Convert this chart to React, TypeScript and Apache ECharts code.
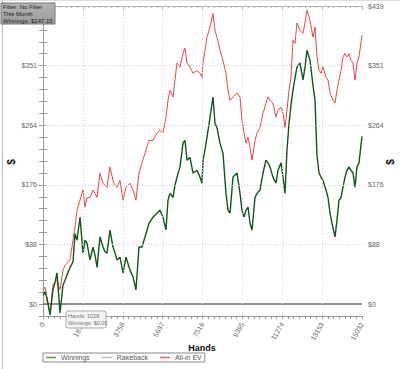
import React, { useEffect, useRef } from "react";
import * as echarts from "echarts";

const hands = [0, 94, 188, 330, 471, 565, 660, 801, 942, 1037, 1131, 1272, 1414, 1508, 1602, 1744, 1885, 1979, 2073, 2215, 2356, 2450, 2545, 2686, 2827, 2922, 3016, 3157, 3299, 3393, 3487, 3628, 3770, 3911, 4100, 4241, 4382, 4524, 4665, 4854, 4995, 5183, 5372, 5513, 5655, 5796, 5890, 5984, 6126, 6220, 6314, 6456, 6597, 6691, 6786, 6927, 7068, 7257, 7398, 7492, 7540, 7634, 7728, 7869, 8011, 8105, 8199, 8341, 8482, 8623, 8718, 8812, 8953, 9142, 9283, 9377, 9472, 9566, 9660, 9754, 9848, 9990, 10084, 10225, 10367, 10508, 10602, 10697, 10838, 10979, 11074, 11215, 11309, 11403, 11498, 11592, 11686, 11781, 11875, 11969, 12110, 12252, 12346, 12440, 12582, 12723, 12817, 12911, 13006, 13100, 13194, 13336, 13430, 13525, 13665, 13760, 13854, 13948, 14042, 14136, 14231, 14325, 14419, 14513, 14608, 14702, 14796, 14890, 15032];

const winnings = [13, 18, 9, -16, 21, 32, 46, -13, 28, 35, 43, 54, 62, 104, 94, 128, 75, 94, 90, 65, 84, 72, 54, 99, 84, 77, 75, 109, 84, 75, 65, 69, 46, 69, 50, 40, 21, 84, 84, 104, 119, 128, 134, 138, 128, 109, 153, 163, 157, 175, 187, 202, 237, 241, 212, 216, 193, 197, 187, 178, 212, 227, 246, 275, 305, 266, 260, 237, 222, 163, 138, 134, 187, 193, 163, 138, 128, 138, 143, 119, 109, 157, 163, 168, 193, 212, 208, 202, 187, 178, 197, 208, 187, 163, 227, 266, 293, 315, 333, 349, 355, 330, 349, 374, 359, 322, 300, 219, 193, 187, 182, 168, 157, 134, 112, 99, 124, 153, 157, 172, 187, 197, 202, 197, 193, 172, 202, 208, 247.15];

const allInEV = [21, 25, 6, -13, 28, 32, 35, 21, 50, 57, 60, 65, 94, 113, 138, 153, 168, 143, 157, 157, 168, 163, 157, 193, 178, 175, 172, 202, 182, 175, 172, 182, 153, 172, 178, 168, 153, 193, 208, 227, 241, 241, 252, 256, 252, 275, 300, 315, 305, 330, 355, 349, 369, 377, 355, 349, 340, 344, 340, 334, 355, 374, 393, 408, 428, 403, 393, 374, 359, 340, 315, 300, 305, 311, 305, 271, 252, 237, 246, 231, 212, 241, 252, 260, 281, 296, 305, 300, 296, 275, 286, 290, 281, 260, 286, 315, 334, 389, 384, 414, 403, 399, 414, 433, 418, 393, 408, 364, 344, 340, 349, 334, 330, 311, 300, 296, 315, 330, 344, 364, 369, 364, 369, 359, 355, 330, 355, 364, 396];

const rakeback = hands.map(() => 0);

const yTickLabels = ["$0", "$88", "$176", "$264", "$351", "$439"];
const xMax = 15032;
const xStep = 1879;
const yStep = 87.8;

const legendNames = ["Winnings", "Rakeback", "All-in EV"];
const filterLines = ["Filter: No Filter", "This Month", "Winnings: $247.15"];
const tipLines = ["Hands: 1028", "Winnings: $0.00"];

const FONT = "Liberation Sans, Arial, sans-serif";

export default function App() {
  const ref = useRef<HTMLDivElement>(null);
  useEffect(() => {
    if (!ref.current) return;
    const chart = echarts.init(ref.current, null, { renderer: "svg" });
    const makeFmt = (maxIdx: number) => (v: number) => {
      const idx = Math.round(v / yStep);
      if (idx >= 0 && idx <= maxIdx && Math.abs(v - idx * yStep) < 0.05) return yTickLabels[idx] || "";
      return "";
    };
    const yAxisBase = {
      type: "value",
      min: -yStep / 5,
      max: yStep * 5,
      interval: yStep / 5,
      axisLine: { show: true, lineStyle: { color: "#9a9a9a", width: 1 } },
      axisTick: { show: true, length: 4, lineStyle: { color: "#9a9a9a" } },
      splitLine: { show: false },
    };
    const labelBase = { fontSize: 7, color: "#666", margin: 6, fontFamily: FONT };
    const pair = (arr: number[]) => hands.map((h, i) => [h, arr[i]]);
    const gridLinesY = [1, 2, 3, 4].map((k) => ({ yAxis: k * yStep }));
    const gridLinesX = [1, 2, 3, 4, 5, 6, 7].map((k) => ({ xAxis: k * xStep }));
    chart.setOption({
      animation: false,
      backgroundColor: "#fff",
      grid: { left: 43, right: 38, top: 6, bottom: 53 },
      xAxis: [
        {
          type: "value",
          min: 0,
          max: xMax,
          interval: xStep,
          axisLine: { show: true, onZero: false, lineStyle: { color: "#9a9a9a" } },
          axisTick: { show: true, length: 3, lineStyle: { color: "#9a9a9a" } },
          minorTick: { show: true, splitNumber: 7, length: 3, lineStyle: { color: "#9a9a9a" } },
          axisLabel: {
            rotate: 60,
            fontSize: 7,
            color: "#666",
            margin: 7,
            fontFamily: FONT,
            formatter: (v: number) => String(Math.round(v)),
          },
          splitLine: { show: false },
        },
        {
          type: "value",
          position: "top",
          min: 0,
          max: xMax,
          interval: xStep,
          axisLine: { show: true, onZero: false, lineStyle: { color: "#b0b0b0" } },
          axisTick: { show: true, inside: true, length: 4, lineStyle: { color: "#b0b0b0" } },
          minorTick: { show: true, splitNumber: 7, length: 2, lineStyle: { color: "#b0b0b0" } },
          axisLabel: { show: false },
          splitLine: { show: false },
        },
      ],
      yAxis: [
        { ...yAxisBase, position: "left", axisLabel: { ...labelBase, formatter: makeFmt(4) } },
        { ...yAxisBase, position: "right", axisLabel: { ...labelBase, formatter: makeFmt(5) } },
      ],
      legend: {
        left: 43,
        top: 353,
        data: legendNames,
        icon: "rect",
        itemWidth: 10,
        itemHeight: 1.5,
        itemGap: 12,
        padding: [1, 3, 1, 3],
        borderColor: "#888",
        borderWidth: 1,
        textStyle: { fontSize: 7, color: "#555", fontFamily: FONT },
        selectedMode: false,
      },
      series: [
        {
          name: "Rakeback",
          type: "line",
          data: pair(rakeback),
          symbol: "none",
          color: "#bdbdbd",
          lineStyle: { color: "#6d6d7d", width: 1.5 },
          z: 2,
          silent: true,
          markLine: {
            silent: true,
            symbol: "none",
            label: { show: false },
            lineStyle: { type: [1, 2], color: "#cfcfcf", width: 1 },
            data: [...gridLinesY, ...gridLinesX],
          },
        },
        {
          name: "All-in EV",
          type: "line",
          data: pair(allInEV),
          symbol: "none",
          color: "#e0696b",
          lineStyle: { color: "#e8484b", width: 1 },
          z: 3,
        },
        {
          name: "Winnings",
          type: "line",
          data: pair(winnings),
          symbol: "none",
          color: "#4f9a4f",
          lineStyle: { color: "#11571a", width: 1.4 },
          z: 4,
        },
      ],
      graphic: [
        { type: "line", shape: { x1: 2.5, y1: 0, x2: 2.5, y2: 369 }, style: { stroke: "#bbb", lineWidth: 1 } },
        { type: "line", shape: { x1: 0, y1: 0.5, x2: 400, y2: 0.5 }, style: { stroke: "#ddd", lineWidth: 1 } },
        {
          type: "rect",
          shape: { x: 1, y: 3, width: 54, height: 21 },
          style: {
            fill: new echarts.graphic.LinearGradient(0, 0, 0, 1, [
              { offset: 0, color: "#b5b5b5" },
              { offset: 1, color: "#9a9a9a" },
            ]),
            stroke: "#777",
            lineWidth: 1,
          },
          z: 100,
        },
        ...filterLines.map((t, i) => ({
          type: "text",
          x: 3,
          y: 7 + i * 7,
          style: {
            text: t,
            fontSize: 6,
            fill: "#222",
            verticalAlign: "middle",
            fontFamily: FONT,
          },
          z: 101,
        })),
        {
          type: "rect",
          shape: { x: 66, y: 311, width: 40, height: 17, r: 2 },
          style: { fill: "#f4f4f4", stroke: "#aaa", lineWidth: 1 },
          z: 100,
        },
        ...tipLines.map((t, i) => ({
          type: "text",
          x: 68,
          y: 315.5 + i * 7,
          style: {
            text: t,
            fontSize: 5.5,
            fill: "#777",
            verticalAlign: "middle",
            fontFamily: FONT,
          },
          z: 101,
        })),
        {
          type: "text",
          x: 202,
          y: 348,
          style: {
            text: "Hands",
            fontSize: 9,
            fontWeight: "bold",
            fill: "#111",
            align: "center",
            verticalAlign: "middle",
            fontFamily: FONT,
          },
        },
        {
          type: "text",
          x: 11,
          y: 162,
          rotation: Math.PI / 2,
          style: {
            text: "$",
            fontSize: 10,
            fontWeight: "bold",
            fill: "#111",
            align: "center",
            verticalAlign: "middle",
            fontFamily: FONT,
          },
        },
        {
          type: "text",
          x: 390,
          y: 162,
          rotation: Math.PI / 2,
          style: {
            text: "$",
            fontSize: 10,
            fontWeight: "bold",
            fill: "#111",
            align: "center",
            verticalAlign: "middle",
            fontFamily: FONT,
          },
        },
      ],
    });
    return () => chart.dispose();
  }, []);
  return (
    <div
      ref={ref}
      style={{ position: "fixed", left: 0, top: 0, width: 400, height: 369, background: "#fff" }}
    />
  );
}
